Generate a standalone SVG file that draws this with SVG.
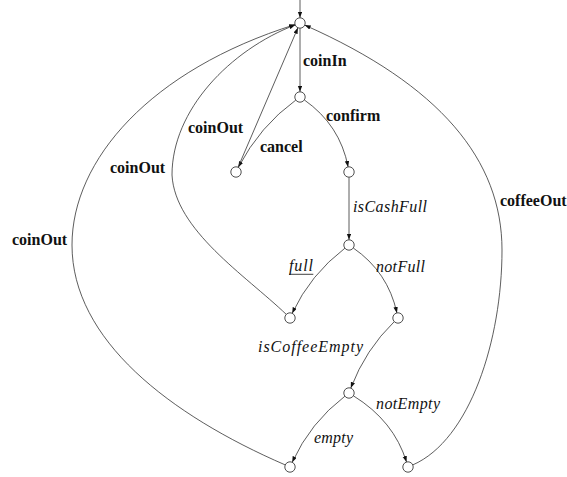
<svg xmlns="http://www.w3.org/2000/svg" width="567" height="477" viewBox="0 0 567 477">
<style>
.node{fill:#fff;stroke:#222;stroke-width:0.8}
.edge{fill:none;stroke:#333;stroke-width:0.8;marker-end:url(#arr)}
.lb{font-weight:bold;font-size:16px;fill:#111}
.li{font-style:italic;font-size:16px;fill:#111}
</style>
<defs>
<marker id="arr" markerUnits="userSpaceOnUse" markerWidth="7" markerHeight="5" refX="6" refY="2.2" orient="auto">
<path d="M0,0 L6,2.2 L0,4.4 z" fill="#111"/>
</marker>
</defs>
<rect width="567" height="477" fill="#fff"/>
<g id="connectors">
<path class="edge" d="M300,0 V17.8"/>
<path class="edge" d="M300,28.2 V91.8"/>
<path class="edge" d="M295.8,100.1 Q260,126 238.3,167.3"/>
<path class="edge" d="M304.3,99.9 Q340,125 348.1,166.9"/>
<path class="edge" d="M349,177.2 V239.8"/>
<path class="edge" d="M344.9,248.2 Q310.3,274.6 292.2,313.3"/>
<path class="edge" d="M353.3,248 Q388,272 396.9,312.9"/>
<path class="edge" d="M394.3,321.6 Q365.5,349.5 350.8,388.1"/>
<path class="edge" d="M344.9,396.2 Q310.3,422.6 292.2,462.3"/>
<path class="edge" d="M353.4,395.8 Q394,421 406.5,462"/>
<path class="edge" d="M238.1,167.2 L297.9,27.8"/>
<path class="edge" d="M286.3,314.4 C245,275 175,230 172,175 C172,110 230,50 295.2,24.9"/>
<path class="edge" d="M285.2,464.9 C170,415 72,340 72,245 C72,160 150,70 295,24.6"/>
<path class="edge" d="M412.8,464.9 C470,440 502,340 502,250 C502,160 440,85 304.7,25.1"/>
</g>
<g id="labels" font-family="Liberation Serif, Times New Roman, serif">
<text class="lb" x="303" y="66">coinIn</text>
<text class="lb" x="326" y="121">confirm</text>
<text class="lb" x="260" y="152">cancel</text>
<text class="lb" x="188" y="132.5">coinOut</text>
<text class="lb" x="110" y="172.5">coinOut</text>
<text class="lb" x="12" y="245">coinOut</text>
<text class="lb" x="500" y="206">coffeeOut</text>
<text class="li" x="353" y="212" textLength="74" lengthAdjust="spacing">isCashFull</text>
<text class="li" x="289" y="271" textLength="24" lengthAdjust="spacing">full</text>
<line x1="289" y1="274.3" x2="313.3" y2="274.3" stroke="#111" stroke-width="0.8"/>
<text class="li" x="376" y="272" textLength="49" lengthAdjust="spacing">notFull</text>
<text class="li" x="258" y="352" textLength="105" lengthAdjust="spacing">isCoffeeEmpty</text>
<text class="li" x="376" y="409" textLength="64" lengthAdjust="spacing">notEmpty</text>
<text class="li" x="314" y="443" textLength="39" lengthAdjust="spacing">empty</text>
</g>
<g id="s0"><circle class="node" cx="300" cy="23" r="5.2"/></g>
<g id="s1"><circle class="node" cx="300" cy="97" r="5.2"/></g>
<g id="s_cancel"><circle class="node" cx="236" cy="172" r="5.2"/></g>
<g id="s_confirm"><circle class="node" cx="349" cy="172" r="5.2"/></g>
<g id="s_cash"><circle class="node" cx="349" cy="245" r="5.2"/></g>
<g id="s_full"><circle class="node" cx="290" cy="318" r="5.2"/></g>
<g id="s_notfull"><circle class="node" cx="398" cy="318" r="5.2"/></g>
<g id="s_coffee"><circle class="node" cx="349" cy="393" r="5.2"/></g>
<g id="s_empty"><circle class="node" cx="290" cy="467" r="5.2"/></g>
<g id="s_notempty"><circle class="node" cx="408" cy="467" r="5.2"/></g>
</svg>
